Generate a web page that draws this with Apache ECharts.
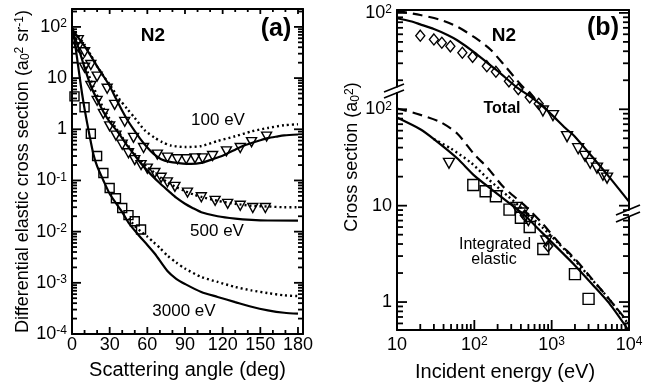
<!DOCTYPE html>
<html>
<head>
<meta charset="utf-8">
<script src="https://cdn.jsdelivr.net/npm/echarts@6.0.0/dist/echarts.min.js"></script>
<style>
  html, body { margin: 0; padding: 0; background: #fff; }
  #chart { width: 651px; height: 387px; }
</style>
</head>
<body>
<div id="chart"></div>
<script>
const FONT = '"Liberation Sans", Arial, Helvetica, sans-serif';

// ---- panel (a): differential elastic cross section (a0^2/sr) vs angle (deg)
const angleMajor = [0, 30, 60, 90, 120, 150, 180];
const angleMinor = [10, 20, 40, 50, 70, 80, 100, 110, 130, 140, 160, 170];
const dcsDecades = [-4, -3, -2, -1, 0, 1, 2];

const dcs100Solid = [[0, 90], [5, 62], [10, 42], [15, 27], [20, 17], [25, 11], [30, 7], [35, 4.0], [40, 2.3], [45, 1.4], [50, 0.92], [55, 0.62], [60, 0.44], [65, 0.33], [71, 0.26], [78, 0.23], [84, 0.22], [95, 0.21], [103, 0.22], [110, 0.25], [116, 0.28], [123, 0.33], [130, 0.40], [136, 0.47], [143, 0.54], [150, 0.61], [156, 0.67], [163, 0.72], [169, 0.76], [180, 0.79]];
const dcs100Dotted = [[0, 95], [5, 66], [10, 45], [15, 28], [20, 17], [25, 11], [30, 7.5], [37, 4.1], [44, 2.5], [50, 1.66], [58, 0.95], [66, 0.68], [72, 0.56], [79, 0.48], [90, 0.45], [103, 0.47], [116, 0.59], [130, 0.73], [143, 0.91], [156, 1.06], [169, 1.2], [180, 1.25]];
const dcs100Exp = [[5, 55], [10, 32], [15, 18], [20, 10.7], [28, 6.2], [34, 3.0], [42, 1.4], [49, 0.68], [57, 0.43], [68, 0.32], [76, 0.28], [84, 0.26], [91, 0.26], [98, 0.27], [104, 0.27], [112, 0.30], [123, 0.37], [134, 0.43], [143, 0.56], [155, 0.72]];

const dcs500Solid = [[0, 85], [5, 40], [10, 16], [15, 7], [20, 3.8], [25, 2.2], [30, 1.4], [37, 0.85], [43, 0.52], [50, 0.31], [56, 0.2], [63, 0.13], [70, 0.088], [77, 0.062], [83, 0.046], [90, 0.035], [96, 0.029], [103, 0.024], [116, 0.020], [130, 0.018], [143, 0.017], [156, 0.0165], [180, 0.0164]];
const dcs500Dotted = [[0, 90], [5, 45], [10, 19], [15, 9], [20, 4.6], [25, 2.6], [30, 1.6], [35, 1.05], [40, 0.7], [45, 0.47], [50, 0.33], [55, 0.24], [60, 0.18], [66, 0.14], [71, 0.112], [76, 0.092], [82, 0.076], [90, 0.062], [97, 0.053], [104, 0.047], [116, 0.040], [130, 0.035], [143, 0.032], [156, 0.031], [169, 0.030], [180, 0.030]];
const dcs500Exp = [[5, 40], [10, 16], [15, 7], [20, 3.6], [25, 2.0], [30, 1.14], [35, 0.75], [40, 0.5], [45, 0.34], [50, 0.25], [55, 0.2], [60, 0.17], [66, 0.14], [71, 0.113], [76, 0.092], [82, 0.075], [92, 0.058], [103, 0.047], [114, 0.040], [124, 0.035], [134, 0.032], [144, 0.029], [154, 0.029]];

const dcs3000Solid = [[0, 95], [2, 55], [4, 25], [6, 11], [8, 5], [10, 2.5], [12, 1.35], [14, 0.75], [17, 0.33], [20, 0.19], [25, 0.1], [30, 0.055], [35, 0.036], [40, 0.024], [45, 0.015], [50, 0.0105], [55, 0.0075], [60, 0.0055], [66, 0.0037], [76, 0.0017], [83, 0.0012], [90, 0.00095], [103, 0.00066], [116, 0.00053], [130, 0.00042], [143, 0.00034], [156, 0.00029], [169, 0.00026], [180, 0.00025]];
const dcs3000Dotted = [[45, 0.018], [50, 0.013], [55, 0.010], [60, 0.008], [65, 0.0062], [70, 0.0048], [76, 0.0034], [83, 0.0025], [90, 0.0019], [103, 0.0013], [116, 0.00104], [130, 0.00083], [143, 0.00071], [156, 0.00063], [169, 0.00057], [180, 0.00055]];
const dcs3000Exp = [[2, 4.4], [10, 2.7], [15, 0.82], [20, 0.3], [25, 0.14], [30, 0.071], [35, 0.045], [40, 0.029], [45, 0.021], [50, 0.016], [55, 0.011]];

// ---- panel (b): cross sections (a0^2) vs incident energy (eV)
const energyDecades = [1, 2, 3, 4];
const csDecades = [0, 1, 2, 3];     // top decade is the broken axis, labelled 10^2 again
const csLabels = ['1', '10', '2', '2'];
const totalShift = 10;              // total curves sit one decade up on the broken axis

const totalSolid = [[10, 88], [15, 82], [20, 76], [30, 68], [45, 59], [60, 52], [100, 39], [150, 30], [200, 25], [350, 17], [500, 14], [750, 10.9], [1000, 8.8], [1500, 6.4], [2000, 5.2], [3300, 3.25], [5500, 2.0], [10000, 1.1]];
const totalDashed = [[10, 105], [20, 95], [36, 85], [60, 72], [100, 56], [160, 42], [260, 27], [400, 18], [600, 13], [1000, 8.9]];
const totalDiamonds = [[20, 58], [30, 53], [38, 49], [49, 45], [70, 38.6], [95, 35], [145, 28], [190, 24.5], [280, 19.5], [370, 16.2], [520, 13.3], [680, 11.4]];
const totalTriangles = [[770, 9.6], [1040, 8.6], [1580, 5.2], [2200, 3.9], [2700, 3.25], [3150, 2.75], [3850, 2.45], [4600, 2.07], [5200, 1.93]];

const elasticSolid = [[10, 82], [20, 62], [30, 49], [60, 31], [100, 20.5], [170, 14.6], [280, 10.7], [450, 7.9], [750, 5.25], [1250, 3.5], [2000, 2.4], [3300, 1.55], [5500, 0.98], [10000, 0.5]];
const elasticDashed = [[10, 102], [18, 90], [36, 74], [60, 56], [100, 34], [150, 24.5], [240, 15.5], [450, 10], [750, 6.6], [1250, 4.1], [2000, 2.8], [3300, 1.75], [5500, 1.08], [10000, 0.6]];
const elasticDotted = [[30, 49], [50, 39], [90, 28], [150, 19], [280, 12.3], [450, 8.8], [750, 6.0], [1250, 4.0], [2000, 2.7], [3300, 1.72], [5500, 1.08], [10000, 0.58]];
const elasticSquares = [[97, 16.4], [140, 14.1], [190, 12.5], [285, 9.1], [400, 7.5], [520, 6.0], [780, 3.55], [2000, 1.95], [3000, 1.08]];
const elasticTriangles = [[47, 27.5], [350, 9.6], [420, 8.4], [500, 7.0], [850, 4.3]];
const elasticDiamonds = [[450, 7.9], [900, 3.8]];

const lg = Math.log10;
const toA = (pts) => pts.map(([x, y]) => [x, lg(y)]);
const toB = (pts, k = 1) => pts.map(([x, y]) => [lg(x), lg(y * k)]);

// log-spaced minor tick positions (2..9 x 10^e) inside (lo, hi)
function minorLogs(e0, e1, lo, hi) {
  const out = [];
  for (let e = e0; e <= e1; e++) {
    for (let k = 2; k <= 9; k++) {
      const v = e + lg(k);
      if (v > lo && v < hi) out.push(v);
    }
  }
  return out;
}

const A = { xMin: 0, xMax: 184, yMin: -4, yMax: 2.35, xi: 0, yi: 0 };
const B = { xMin: 1, xMax: 4, yMin: -0.29, yMax: 3.03, xi: 2, yi: 2 };

const rich = {
  b: { fontSize: 18, fontFamily: FONT, color: '#000' },
  s: { fontSize: 12, fontFamily: FONT, color: '#000', verticalAlign: 'top' },
};
const powLabel = (n) => (n === 0 ? '1' : n === 1 ? '10' : '{b|10}{s|' + n + '}');

function axis(o) {
  return {
    type: 'value',
    gridIndex: o.grid,
    position: o.pos,
    min: o.min,
    max: o.max,
    axisLine: { show: true, onZero: false, lineStyle: { color: '#000', width: 2 } },
    axisTick: { show: false },
    axisLabel: o.labels
      ? { show: true, customValues: o.labels, formatter: o.fmt, margin: o.margin, color: '#000', fontSize: 18, fontFamily: FONT, rich }
      : { show: false },
    splitLine: { show: false },
    name: o.name,
    nameLocation: 'middle',
    nameGap: o.nameGap,
    nameTextStyle: o.nameStyle,
  };
}

const nameRich = {
  t: { fontSize: 18, fontFamily: FONT, color: '#000' },
  sub: { fontSize: 12, fontFamily: FONT, color: '#000', verticalAlign: 'bottom' },
  sup: { fontSize: 12, fontFamily: FONT, color: '#000', verticalAlign: 'top' },
};

const xAxes = [
  axis({ grid: 0, pos: 'bottom', min: A.xMin, max: A.xMax, labels: angleMajor, fmt: (v) => String(v), margin: 2,
    name: 'Scattering angle (deg)', nameGap: 26, nameStyle: { fontSize: 20, fontFamily: FONT, color: '#000' } }),
  axis({ grid: 0, pos: 'top', min: A.xMin, max: A.xMax }),
  axis({ grid: 1, pos: 'bottom', min: B.xMin, max: B.xMax, labels: energyDecades, fmt: powLabel, margin: 6,
    name: 'Incident energy (eV)', nameGap: 32, nameStyle: { fontSize: 20, fontFamily: FONT, color: '#000', padding: [0, 16, 0, 0] } }),
  axis({ grid: 1, pos: 'top', min: B.xMin, max: B.xMax }),
];

const yAxes = [
  axis({ grid: 0, pos: 'left', min: A.yMin, max: A.yMax, labels: dcsDecades, fmt: powLabel, margin: 5,
    name: '{t|Differential elastic cross section (a}{sub|0}{sup|2}{t| sr}{sup|-1}{t|)}', nameGap: 40,
    nameStyle: { rich: nameRich } }),
  axis({ grid: 0, pos: 'right', min: A.yMin, max: A.yMax }),
  axis({ grid: 1, pos: 'left', min: B.yMin, max: B.yMax, labels: csDecades,
    fmt: (v) => { const s = csLabels[Math.round(v)]; return s === '2' ? '{b|10}{s|2}' : s; }, margin: 5,
    name: '{t|Cross section (a}{sub|0}{sup|2}{t|)}', nameGap: 33,
    nameStyle: { rich: nameRich, padding: [0, 0, 0, 26] } }),
  axis({ grid: 1, pos: 'right', min: B.yMin, max: B.yMax }),
];

function line(box, pts, style) {
  const dash = style === 'dotted' ? [2, 3] : style === 'dashed' ? [10, 6] : 'solid';
  return {
    type: 'line', xAxisIndex: box.xi, yAxisIndex: box.yi, data: pts, showSymbol: false, smooth: 0.25,
    lineStyle: { color: '#000', width: style === 'dotted' ? 2.4 : 2.2, type: dash, cap: 'butt' },
    silent: true, z: 2,
  };
}
function marks(box, pts, symbol, size, rotate) {
  return {
    type: 'scatter', xAxisIndex: box.xi, yAxisIndex: box.yi, data: pts, symbol, symbolSize: size, symbolRotate: rotate || 0,
    itemStyle: { color: 'rgba(255,255,255,0)', borderColor: '#000', borderWidth: 1.4, opacity: 1 },
    silent: true, z: 3,
  };
}

const series = [
  line(A, toA(dcs100Dotted), 'dotted'),
  line(A, toA(dcs100Solid), 'solid'),
  marks(A, toA(dcs100Exp), 'triangle', [10, 9], 180),
  line(A, toA(dcs500Dotted), 'dotted'),
  line(A, toA(dcs500Solid), 'solid'),
  marks(A, toA(dcs500Exp), 'triangle', [10, 9], 180),
  line(A, toA(dcs3000Dotted), 'dotted'),
  line(A, toA(dcs3000Solid), 'solid'),
  marks(A, toA(dcs3000Exp), 'rect', 9),

  line(B, toB(totalDashed, totalShift), 'dashed'),
  line(B, toB(totalSolid, totalShift), 'solid'),
  marks(B, toB(totalDiamonds, totalShift), 'diamond', [9, 11]),
  marks(B, toB(totalTriangles, totalShift), 'triangle', [11, 10], 180),
  line(B, toB(elasticDashed), 'dashed'),
  line(B, toB(elasticDotted), 'dotted'),
  line(B, toB(elasticSolid), 'solid'),
  marks(B, toB(elasticSquares), 'rect', 11),
  marks(B, toB(elasticTriangles), 'triangle', [11, 10], 180),
  marks(B, toB(elasticDiamonds), 'diamond', [9, 11]),
];

const label = (text, x, y, size, bold) => ({
  type: 'text', x, y, z: 50,
  style: { text, fill: '#000', fontSize: size, fontWeight: bold ? 'bold' : 'normal', fontFamily: FONT, align: 'center', verticalAlign: 'middle' },
});
const seg = (x1, y1, x2, y2, w) => ({ type: 'line', z: 61, silent: true, shape: { x1, y1, x2, y2 }, style: { stroke: '#000', lineWidth: w || 1.8 } });
const gap = (x, y, w, h) => ({ type: 'rect', z: 60, shape: { x, y, width: w, height: h }, style: { fill: '#fff' } });

const grids = [
  { left: 72, top: 9, width: 231, height: 325 },
  { left: 397, top: 10, width: 232, height: 323 },
];

const chart = echarts.init(document.getElementById('chart'), null, { renderer: 'canvas' });
chart.setOption({
  animation: false,
  backgroundColor: '#fff',
  grid: grids,
  xAxis: xAxes,
  yAxis: yAxes,
  series,
});

// inward tick marks, positioned through the axes' own scales
function frameTicks(box, values, side, len) {
  const finder = { xAxisIndex: box.xi, yAxisIndex: box.yi };
  return values.map((v) => {
    const pt = side === 'left' ? [box.xMin, v] : side === 'right' ? [box.xMax, v]
      : side === 'bottom' ? [v, box.yMin] : [v, box.yMax];
    const [px, py] = chart.convertToPixel(finder, pt);
    if (side === 'left') return seg(px, py, px + len, py, 1.8);
    if (side === 'right') return seg(px, py, px - len, py, 1.8);
    if (side === 'bottom') return seg(px, py, px, py - len, 1.8);
    return seg(px, py, px, py + len, 1.8);
  });
}

const dcsMinor = minorLogs(-4, 2, A.yMin, A.yMax);
const energyMinor = minorLogs(1, 3, B.xMin, B.xMax);
const csMinor = minorLogs(-1, 2, B.yMin, B.yMax);

const graphic = [
  ...frameTicks(A, dcsDecades, 'left', 9),
  ...frameTicks(A, dcsDecades, 'right', 9),
  ...frameTicks(A, dcsMinor, 'left', 5),
  ...frameTicks(A, dcsMinor, 'right', 5),
  ...frameTicks(A, angleMajor, 'bottom', 7),
  ...frameTicks(A, angleMajor, 'top', 5),
  ...frameTicks(A, angleMinor, 'bottom', 4),
  ...frameTicks(A, angleMinor, 'top', 3),
  ...frameTicks(B, csDecades, 'left', 10),
  ...frameTicks(B, csDecades, 'right', 10),
  ...frameTicks(B, csMinor, 'left', 6),
  ...frameTicks(B, csMinor, 'right', 6),
  ...frameTicks(B, energyDecades, 'bottom', 10),
  ...frameTicks(B, energyMinor, 'bottom', 6),

  label('N2', 153, 36, 19, true),
  label('(a)', 276, 29, 25, true),
  label('100 eV', 218, 120, 17),
  label('500 eV', 217, 231, 17),
  label('3000 eV', 184, 311, 17),
  label('N2', 504, 36, 19, true),
  label('(b)', 603, 28, 25, true),
  label('Total', 502, 109, 16, true),
  label('Integrated', 495, 245, 16),
  label('elastic', 494, 260, 16),
  // axis break marks
  gap(390, 87.5, 16, 4.5),
  seg(384, 92, 404, 84),
  seg(384, 98, 404, 90),
  gap(620, 210.5, 16, 5.5),
  seg(616, 222, 640, 212),
  seg(616, 215, 640, 205),
];

chart.setOption({ graphic });
</script>
</body>
</html>
